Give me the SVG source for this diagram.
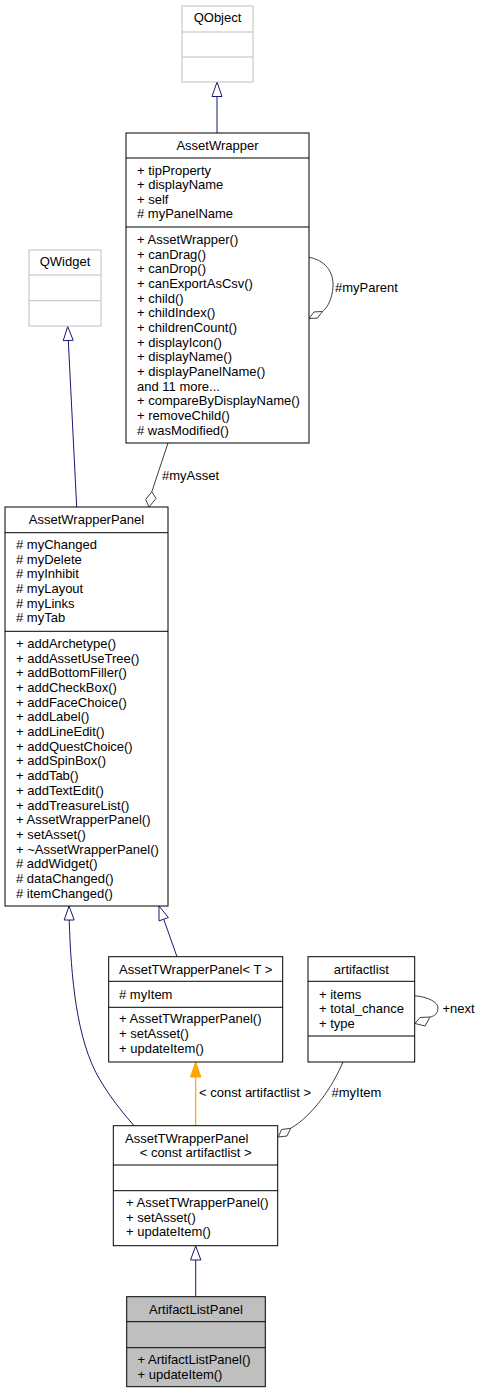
<svg xmlns="http://www.w3.org/2000/svg" width="480" height="1393" viewBox="0 0 480 1393">
<style>
text{font-family:"Liberation Sans",Arial,sans-serif;font-size:13px;fill:#000}
.c{text-anchor:middle}
.box{fill:#fff;stroke:#000;stroke-width:1}
.gbox{fill:#fff;stroke:#bfbfbf;stroke-width:1}
.sel{fill:#bfbfbf;stroke:#000;stroke-width:1}
.dv{stroke:#000;stroke-width:1}
.gdv{stroke:#bfbfbf;stroke-width:1}
.inh{fill:none;stroke:#191970;stroke-width:1}
.inhh{fill:#fff;stroke:#191970;stroke-width:1}
.agg{fill:none;stroke:#404040;stroke-width:1}
.aggh{fill:#fff;stroke:#404040;stroke-width:1}
.tpl{fill:none;stroke:#ffa500;stroke-width:1.2}
.tplh{fill:#ffa500;stroke:#ffa500;stroke-width:1}
</style>
<rect width="480" height="1393" fill="#fff"/>
<g id="connectors">
<path class="inh" d="M217,133 L217,96.5"/>
<polygon class="inhh" points="217,82 212,96.5 222,96.5"/>
<path class="inh" d="M76.7,507 L68.3,340.5"/>
<polygon class="inhh" points="67.7,326.5 63.2,340.7 73.2,340.3"/>
<path class="agg" d="M168,443 L151.8,491.7"/>
<polygon class="aggh" points="149,507 145.7,499.5 151.8,491.7 156,498.5"/>
<text x="162" y="479.5">#myAsset</text>
<path class="agg" d="M309,257.3 C325,260 334,272 333,287 C332,300 327,308 322.5,311.5"/>
<polygon class="aggh" points="309,318.5 314.1,311.9 322.5,311.5 317.4,318.1"/>
<text x="335" y="291.8">#myParent</text>
<path class="inh" d="M177,956.7 L163.7,919.2"/>
<polygon class="inhh" points="159,906 159,920.9 168.4,917.5"/>
<path class="inh" d="M69.2,920 C71,975 76,1040 100,1080 C110,1097 122,1112 134,1125.7"/>
<polygon class="inhh" points="69,906 64.2,920 74.2,920"/>
<path class="tpl" d="M195.7,1125.7 L195.7,1077"/>
<polygon class="tplh" points="195.7,1062 190.5,1077 200.9,1077"/>
<text x="199" y="1097">&lt; const artifactlist &gt;</text>
<path class="agg" d="M343,1062 C332,1088 312,1116 290.7,1128.3"/>
<polygon class="aggh" points="278.3,1137 281.5,1129.5 290.7,1128.3 287,1136"/>
<text x="331.5" y="1097">#myItem</text>
<path class="agg" d="M414.7,995.7 C428,997 438,1002 438,1008 C438,1013 435,1016 430,1017"/>
<polygon class="aggh" points="415,1023.5 420,1017.5 430,1017 425,1026"/>
<text x="442.5" y="1013">+next</text>
<path class="inh" d="M195.7,1296.7 L195.7,1260"/>
<polygon class="inhh" points="195.7,1246 190.5,1260 200.9,1260"/>
</g>
<g id="QObject">
<rect class="gbox" x="182" y="6" width="71" height="76"/>
<line class="gdv" x1="182" y1="32" x2="253" y2="32"/>
<line class="gdv" x1="182" y1="57" x2="253" y2="57"/>
<text class="c" x="217.5" y="22">QObject</text>
</g>
<g id="AssetWrapper">
<rect class="box" x="126" y="133" width="183" height="310"/>
<line class="dv" x1="126" y1="158" x2="309" y2="158"/>
<line class="dv" x1="126" y1="227" x2="309" y2="227"/>
<text class="c" x="217.5" y="149.5">AssetWrapper</text>
<text x="137" y="174.5">+ tipProperty</text>
<text x="137" y="189">+ displayName</text>
<text x="137" y="203.5">+ self</text>
<text x="137" y="218"># myPanelName</text>
<text x="137" y="244">+ AssetWrapper()</text>
<text x="137" y="258.7">+ canDrag()</text>
<text x="137" y="273.3">+ canDrop()</text>
<text x="137" y="288">+ canExportAsCsv()</text>
<text x="137" y="302.7">+ child()</text>
<text x="137" y="317.3">+ childIndex()</text>
<text x="137" y="332">+ childrenCount()</text>
<text x="137" y="346.7">+ displayIcon()</text>
<text x="137" y="361.3">+ displayName()</text>
<text x="137" y="376">+ displayPanelName()</text>
<text x="137" y="390.7">and 11 more...</text>
<text x="137" y="405.3">+ compareByDisplayName()</text>
<text x="137" y="420">+ removeChild()</text>
<text x="137" y="434.7"># wasModified()</text>
</g>
<g id="QWidget">
<rect class="gbox" x="29" y="250" width="72" height="76"/>
<line class="gdv" x1="29" y1="275" x2="101" y2="275"/>
<line class="gdv" x1="29" y1="300.7" x2="101" y2="300.7"/>
<text class="c" x="65" y="266">QWidget</text>
</g>
<g id="AssetWrapperPanel">
<rect class="box" x="5" y="507" width="163" height="399"/>
<line class="dv" x1="5" y1="532.7" x2="168" y2="532.7"/>
<line class="dv" x1="5" y1="631.3" x2="168" y2="631.3"/>
<text class="c" x="86.5" y="524">AssetWrapperPanel</text>
<text x="16" y="548.8"># myChanged</text>
<text x="16" y="563.5"># myDelete</text>
<text x="16" y="578.2"># myInhibit</text>
<text x="16" y="592.9"># myLayout</text>
<text x="16" y="607.6"># myLinks</text>
<text x="16" y="622.3"># myTab</text>
<text x="16" y="647.8">+ addArchetype()</text>
<text x="16" y="662.5">+ addAssetUseTree()</text>
<text x="16" y="677.2">+ addBottomFiller()</text>
<text x="16" y="691.9">+ addCheckBox()</text>
<text x="16" y="706.6">+ addFaceChoice()</text>
<text x="16" y="721.3">+ addLabel()</text>
<text x="16" y="736">+ addLineEdit()</text>
<text x="16" y="750.7">+ addQuestChoice()</text>
<text x="16" y="765.4">+ addSpinBox()</text>
<text x="16" y="780.1">+ addTab()</text>
<text x="16" y="794.8">+ addTextEdit()</text>
<text x="16" y="809.5">+ addTreasureList()</text>
<text x="16" y="824.2">+ AssetWrapperPanel()</text>
<text x="16" y="838.9">+ setAsset()</text>
<text x="16" y="853.6">+ ~AssetWrapperPanel()</text>
<text x="16" y="868.3"># addWidget()</text>
<text x="16" y="883"># dataChanged()</text>
<text x="16" y="897.7"># itemChanged()</text>
</g>
<g id="AssetTWrapperPanel_T">
<rect class="box" x="108.7" y="956.7" width="174" height="105.3"/>
<line class="dv" x1="108.7" y1="981.3" x2="282.7" y2="981.3"/>
<line class="dv" x1="108.7" y1="1007.3" x2="282.7" y2="1007.3"/>
<text class="c" x="195.7" y="974">AssetTWrapperPanel&lt; T &gt;</text>
<text x="119" y="998.5"># myItem</text>
<text x="119" y="1023">+ AssetTWrapperPanel()</text>
<text x="119" y="1037.8">+ setAsset()</text>
<text x="119" y="1052.5">+ updateItem()</text>
</g>
<g id="artifactlist">
<rect class="box" x="308" y="956.7" width="106.7" height="105.3"/>
<line class="dv" x1="308" y1="981.3" x2="414.7" y2="981.3"/>
<line class="dv" x1="308" y1="1036" x2="414.7" y2="1036"/>
<text class="c" x="361.3" y="974">artifactlist</text>
<text x="319" y="998.5">+ items</text>
<text x="319" y="1013">+ total_chance</text>
<text x="319" y="1027.8">+ type</text>
</g>
<g id="AssetTWrapperPanel_const">
<rect class="box" x="113.3" y="1125.7" width="164.4" height="120"/>
<line class="dv" x1="113.3" y1="1165" x2="277.7" y2="1165"/>
<line class="dv" x1="113.3" y1="1190.7" x2="277.7" y2="1190.7"/>
<text x="125" y="1142.8">AssetTWrapperPanel</text>
<text class="c" x="195.7" y="1156.8">&lt; const artifactlist &gt;</text>
<text x="126" y="1207">+ AssetTWrapperPanel()</text>
<text x="126" y="1221.7">+ setAsset()</text>
<text x="126" y="1236.4">+ updateItem()</text>
</g>
<g id="ArtifactListPanel">
<rect class="sel" x="126.7" y="1296.7" width="138.6" height="90"/>
<line class="dv" x1="126.7" y1="1321.7" x2="265.3" y2="1321.7"/>
<line class="dv" x1="126.7" y1="1347.7" x2="265.3" y2="1347.7"/>
<text class="c" x="196" y="1313.5">ArtifactListPanel</text>
<text x="137.5" y="1363.5">+ ArtifactListPanel()</text>
<text x="137.5" y="1378.8">+ updateItem()</text>
</g>
</svg>
